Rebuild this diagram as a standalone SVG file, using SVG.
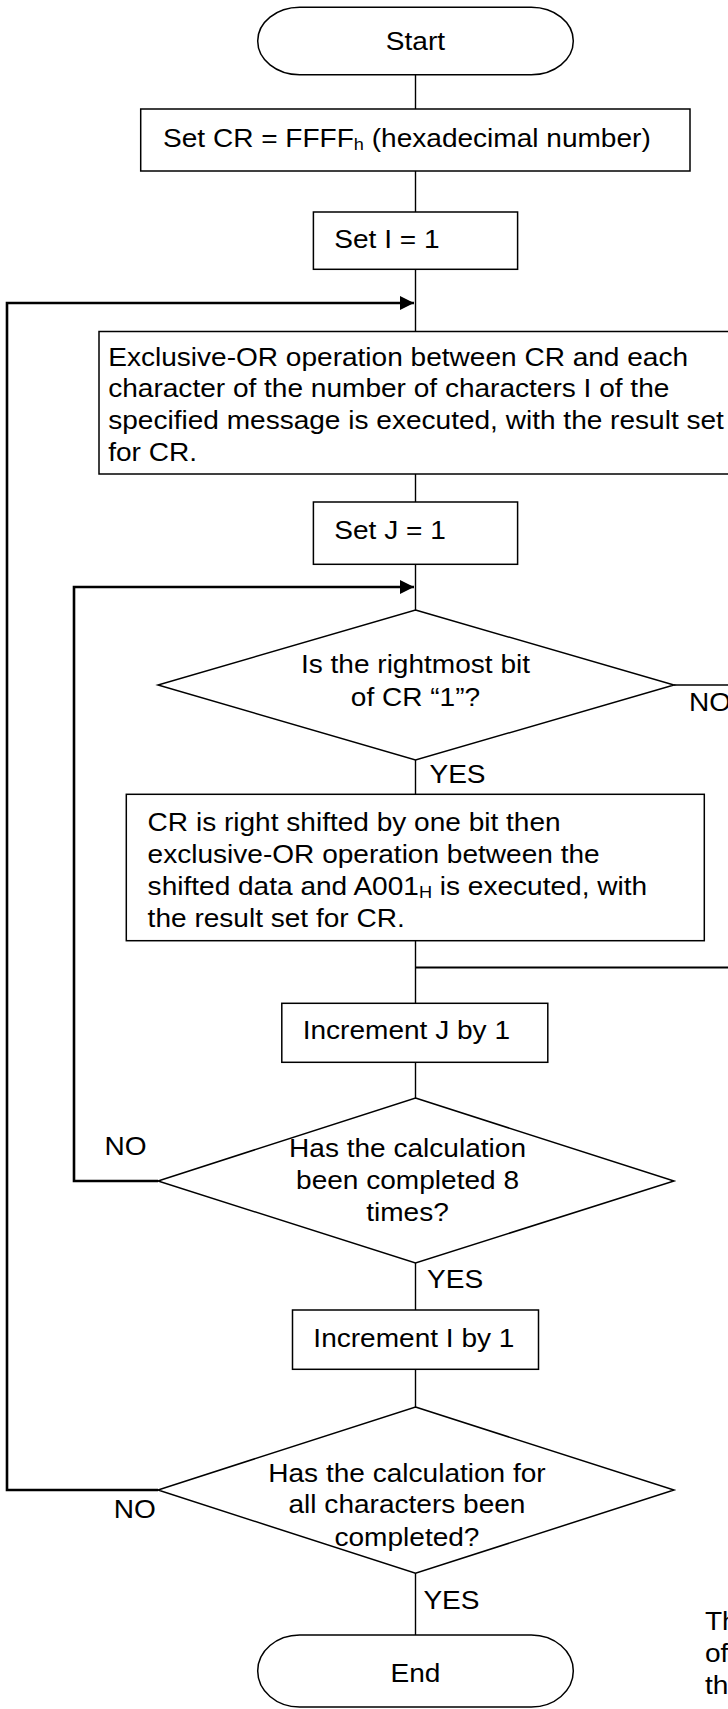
<svg xmlns="http://www.w3.org/2000/svg" width="728" height="1709" viewBox="0 0 728 1709">
<style>
.s{fill:#fff;stroke:#000;stroke-width:1.5}
.c{fill:none;stroke:#000;stroke-width:1.4}
.l{fill:none;stroke:#000;stroke-width:2.6}
.j{fill:none;stroke:#000;stroke-width:2}
text{font-family:"Liberation Sans",Arial,sans-serif;font-size:25.5px;fill:#000}
.m{text-anchor:middle}
</style>
<defs>
<marker id="ah" viewBox="0 0 10 10" refX="10" refY="5" markerWidth="16" markerHeight="14" markerUnits="userSpaceOnUse" orient="auto">
<path d="M0,0 L10,5 L0,10 Z" fill="#000"/>
</marker>
</defs>
<rect width="728" height="1709" fill="#fff"/>
<g id="connectors">
<line class="c" x1="415.5" y1="75" x2="415.5" y2="109"/>
<line class="c" x1="415.5" y1="171" x2="415.5" y2="212"/>
<line class="c" x1="415.5" y1="269" x2="415.5" y2="331"/>
<line class="c" x1="415.5" y1="474" x2="415.5" y2="502"/>
<line class="c" x1="415.5" y1="564" x2="415.5" y2="610"/>
<line class="c" x1="415.5" y1="760" x2="415.5" y2="794"/>
<line class="c" x1="415.5" y1="941" x2="415.5" y2="1003"/>
<line class="c" x1="415.5" y1="1062" x2="415.5" y2="1098"/>
<line class="c" x1="415.5" y1="1263" x2="415.5" y2="1310"/>
<line class="c" x1="415.5" y1="1369" x2="415.5" y2="1407"/>
<line class="c" x1="415.5" y1="1573" x2="415.5" y2="1635"/>
<line class="c" x1="674" y1="685" x2="740" y2="685"/>
<line class="j" x1="415.5" y1="967.5" x2="740" y2="967.5"/>
<path class="l" d="M158,1181 H74 V587 H414" marker-end="url(#ah)"/>
<path class="l" d="M158,1490 H7 V303 H414" marker-end="url(#ah)"/>
</g>
<g id="start">
<rect class="s" x="257.7" y="7.3" width="315.6" height="67.4" rx="42" ry="33.7"/>
<text class="m" x="377.7" y="50" transform="scale(1.1 1)">Start</text>
</g>
<g id="set-cr">
<rect class="s" x="140.7" y="109" width="549.3" height="62"/>
<text x="148.2" y="147.5" transform="scale(1.1 1)">Set CR = FFFF<tspan font-size="16.5" dy="3">h</tspan><tspan dy="-3"> (hexadecimal number)</tspan></text>
</g>
<g id="set-i">
<rect class="s" x="313.4" y="212" width="204.2" height="57.3"/>
<text x="303.9" y="248.3" transform="scale(1.1 1)">Set I = 1</text>
</g>
<g id="xor">
<rect class="s" x="99" y="331.5" width="645" height="142.5"/>
<text transform="scale(1.1 1)"><tspan x="98.4" y="365.7">Exclusive-OR operation between CR and each</tspan><tspan x="98.4" y="397.5">character of the number of characters I of the</tspan><tspan x="98.4" y="429.5">specified message is executed, with the result set</tspan><tspan x="98.4" y="461.5">for CR.</tspan></text>
</g>
<g id="set-j">
<rect class="s" x="313.4" y="502" width="204.2" height="62.3"/>
<text x="303.9" y="539.3" transform="scale(1.1 1)">Set J = 1</text>
</g>
<g id="dec-bit">
<polygon class="s" points="415.5,610 674,685 415.5,760 158,685"/>
<text class="m" transform="scale(1.1 1)"><tspan x="377.7" y="673.3">Is the rightmost bit</tspan><tspan x="377.7" y="705.7">of CR “1”?</tspan></text>
<text x="626.4" y="711.5" transform="scale(1.1 1)">NO</text>
<text x="390.4" y="782.7" transform="scale(1.1 1)">YES</text>
</g>
<g id="shift">
<rect class="s" x="126.3" y="794.3" width="578" height="146.4"/>
<text transform="scale(1.1 1)"><tspan x="134.2" y="830.7">CR is right shifted by one bit then</tspan><tspan x="134.2" y="863">exclusive-OR operation between the</tspan><tspan x="134.2" y="895">shifted data and A001</tspan><tspan font-size="16.5" dy="3">H</tspan><tspan dy="-3"> is executed, with</tspan><tspan x="134.2" y="927.3">the result set for CR.</tspan></text>
</g>
<g id="inc-j">
<rect class="s" x="281.8" y="1003.3" width="266" height="59"/>
<text x="275.2" y="1039.3" transform="scale(1.1 1)">Increment J by 1</text>
</g>
<g id="dec-8">
<polygon class="s" points="415.5,1098 674,1181 415.5,1263 158,1181"/>
<text class="m" transform="scale(1.1 1)"><tspan x="370.5" y="1157.3">Has the calculation</tspan><tspan x="370.5" y="1189.3">been completed 8</tspan><tspan x="370.5" y="1220.7">times?</tspan></text>
<text x="95" y="1155" transform="scale(1.1 1)">NO</text>
<text x="388.2" y="1287.7" transform="scale(1.1 1)">YES</text>
</g>
<g id="inc-i">
<rect class="s" x="292.5" y="1310" width="246" height="59.3"/>
<text x="284.9" y="1346.7" transform="scale(1.1 1)">Increment I by 1</text>
</g>
<g id="dec-all">
<polygon class="s" points="415.5,1407 674,1490 415.5,1573.3 158,1490"/>
<text class="m" transform="scale(1.1 1)"><tspan x="370" y="1481.7">Has the calculation for</tspan><tspan x="370" y="1513.3">all characters been</tspan><tspan x="370" y="1545.7">completed?</tspan></text>
<text x="103.4" y="1518.3" transform="scale(1.1 1)">NO</text>
<text x="384.9" y="1609.3" transform="scale(1.1 1)">YES</text>
</g>
<g id="end">
<rect class="s" x="257.7" y="1635" width="315.6" height="72" rx="42" ry="36"/>
<text class="m" x="377.7" y="1681.7" transform="scale(1.1 1)">End</text>
</g>
<g id="note">
<text transform="scale(1.1 1)"><tspan x="640.9" y="1630">Th</tspan><tspan x="640.9" y="1662">of</tspan><tspan x="640.9" y="1694">th</tspan></text>
</g>
</svg>
